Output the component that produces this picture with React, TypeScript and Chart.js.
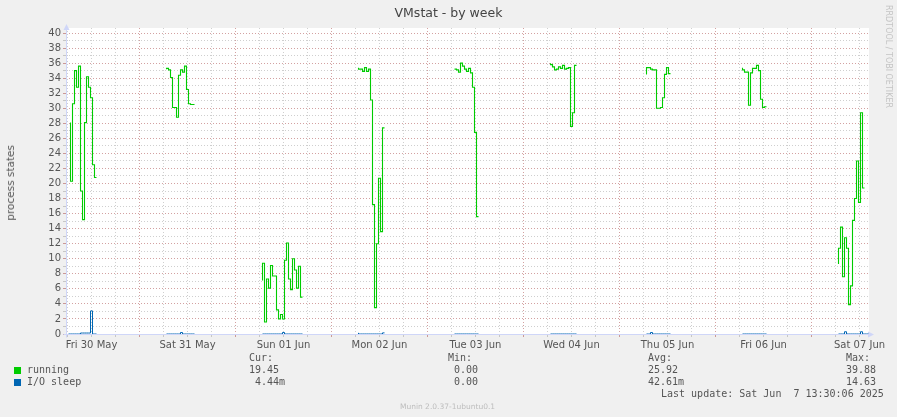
import React, { useEffect, useRef } from 'react';
import { Chart, registerables } from 'chart.js';

Chart.register(...registerables);

// ---- data (hours since Fri 30 May 00:00, 30-minute samples) ----
const STEP_HOURS = 0.5;
const runningStarts = [6.75, 30.75, 54.75, 78.75, 102.75, 126.75, 150.75, 174.75, 198.75];
const runningFri30 = [28.1, 20.3, 30.6, 35.0, 32.8, 35.6, 19.0, 15.2, 28.1, 34.2, 32.8, 31.4, 22.5, 20.8];
const runningSat31 = [35.2, 35.3, 35.1, 34.1, 30.1, 30.1, 28.8, 34.4, 35.1, 34.8, 35.6, 32.5, 30.6, 30.5, 30.5];
const runningSun01 = [7.1, 9.4, 1.6, 7.3, 6.1, 9.1, 7.7, 7.7, 3.2, 2.0, 2.6, 2.0, 9.8, 12.1, 7.3, 5.9, 10.0, 8.5, 6.1, 9.0, 4.9];
const runningMon02 = [35.4, 35.2, 35.2, 34.9, 35.4, 34.9, 35.2, 31.1, 17.2, 3.5, 12.0, 20.7, 13.6, 27.4];
const runningTue03 = [35.2, 35.2, 35.1, 34.8, 36.0, 35.6, 35.2, 34.9, 35.3, 34.7, 32.8, 26.8, 15.6];
const runningWed04 = [36.0, 35.8, 35.5, 35.1, 35.2, 35.5, 35.3, 35.7, 35.2, 35.3, 35.4, 27.6, 29.4, 35.7];
const runningThu05 = [34.5, 35.4, 35.4, 35.2, 35.1, 35.1, 30.0, 30.0, 30.1, 31.4, 34.5, 35.4, 34.6];
const runningFri06 = [35.4, 35.1, 34.8, 34.8, 30.4, 34.7, 35.3, 35.3, 35.7, 35.0, 31.2, 30.1, 30.2];
const runningSat07 = [9.3, 11.4, 14.2, 7.6, 12.8, 11.4, 3.9, 6.4, 15.1, 18.0, 23.0, 17.5, 29.4, 19.4];

const ioStarts = [6.25, 30.75, 54.75, 78.75, 102.75, 126.75, 150.75, 174.75, 198.75];
const ioFri30 = [0, 0, 0, 0, 0, 0, 0, 0.13, 0.13, 0.13, 0.13, 0.13, 3.07, 0, 0];
const ioSat31 = [0, 0, 0, 0, 0, 0, 0, 0, 0.2, 0, 0, 0, 0, 0, 0];
const ioSun01 = [0, 0, 0, 0, 0, 0, 0, 0, 0, 0, 0, 0.2, 0, 0, 0, 0, 0, 0, 0, 0, 0];
const ioMon02 = [0.15, 0, 0, 0, 0, 0, 0, 0, 0, 0, 0, 0, 0, 0.15];
const ioTue03 = [0, 0, 0, 0, 0, 0, 0, 0, 0, 0, 0, 0, 0];
const ioWed04 = [0, 0, 0, 0, 0, 0, 0, 0, 0, 0, 0, 0, 0, 0];
const ioThu05 = [0, 0, 0, 0.2, 0, 0, 0, 0, 0, 0, 0, 0, 0];
const ioFri06 = [0, 0, 0, 0, 0, 0, 0, 0, 0, 0, 0, 0, 0];
const ioSat07 = [0, 0, 0, 0, 0.3, 0, 0, 0, 0, 0, 0, 0, 0.3, 0, 0, 0];

const dayLabels = ['Fri 30 May', 'Sat 31 May', 'Sun 01 Jun', 'Mon 02 Jun', 'Tue 03 Jun', 'Wed 04 Jun', 'Thu 05 Jun', 'Fri 06 Jun', 'Sat 07 Jun'];
const X_MIN = 5.625;
const X_MAX = 206.375;
const GRID_HOURS = 6;
const Y_MIN = 0;
const Y_TOP_TICK = 40;
const Y_MAX = 40.67;

const seriesNames = ['running', 'I/O sleep'];
const seriesColors = ['#00cc00', '#0066b3'];
const curValues = ['19.45', ' 4.44m'];
const minValues = [' 0.00', ' 0.00'];
const avgValues = ['25.92', '42.61m'];
const maxValues = ['39.88', '14.63'];
const lastUpdate = 'Last update: Sat Jun  7 13:30:06 2025';

function buildPoints(starts: number[], segs: number[][]) {
  const pts: { x: number; y: number | null }[] = [];
  segs.forEach((seg, si) => {
    seg.forEach((v, i) => pts.push({ x: starts[si] + i * STEP_HOURS, y: v }));
    pts.push({ x: starts[si] + seg.length * STEP_HOURS, y: null });
  });
  return pts;
}

const RED_GRID = 'rgba(150,30,30,0.42)';
const GRAY_GRID = 'rgba(130,130,130,0.38)';
const AXIS_COLOR = '#CFD6F8';

const decorPlugin = {
  id: 'decor',
  beforeDraw(chart: any) {
    const { ctx, chartArea } = chart;
    ctx.save();
    ctx.fillStyle = '#ffffff';
    ctx.fillRect(chartArea.left, chartArea.top, chartArea.right - chartArea.left, chartArea.bottom - chartArea.top);
    ctx.restore();
  },
  beforeDatasetsDraw(chart: any) {
    const { ctx, chartArea } = chart;
    const x0 = Math.round(chartArea.left) + 0.5;
    const y0 = Math.round(chart.scales.y.getPixelForValue(0)) + 0.5;
    ctx.save();
    ctx.strokeStyle = AXIS_COLOR;
    ctx.fillStyle = AXIS_COLOR;
    ctx.lineWidth = 1;
    ctx.beginPath();
    ctx.moveTo(x0, y0 + 3);
    ctx.lineTo(x0, chartArea.top);
    ctx.moveTo(x0 - 3, y0);
    ctx.lineTo(chartArea.right, y0);
    ctx.stroke();
    ctx.beginPath();
    ctx.moveTo(x0, chartArea.top - 4);
    ctx.lineTo(x0 - 3, chartArea.top + 2);
    ctx.lineTo(x0 + 3, chartArea.top + 2);
    ctx.closePath();
    ctx.fill();
    ctx.beginPath();
    ctx.moveTo(chartArea.right + 5, y0);
    ctx.lineTo(chartArea.right - 1, y0 - 3);
    ctx.lineTo(chartArea.right - 1, y0 + 3);
    ctx.closePath();
    ctx.fill();
    ctx.restore();
  },
};

export default function App() {
  const canvasRef = useRef<HTMLCanvasElement | null>(null);

  useEffect(() => {
    const canvas = canvasRef.current;
    if (!canvas) return;
    const xTicks: number[] = [];
    for (let h = Math.ceil(X_MIN / GRID_HOURS) * GRID_HOURS; h <= X_MAX; h += GRID_HOURS) xTicks.push(h);
    const yTicks: number[] = [];
    for (let v = Y_MIN; v <= Y_TOP_TICK; v += 1) yTicks.push(v);

    const chart = new Chart(canvas, {
      type: 'line',
      data: {
        datasets: [
          {
            label: seriesNames[1],
            data: buildPoints(ioStarts, [ioFri30, ioSat31, ioSun01, ioMon02, ioTue03, ioWed04, ioThu05, ioFri06, ioSat07]) as any,
            borderColor: seriesColors[1],
            borderWidth: 1,
            pointRadius: 0,
            stepped: 'after',
            spanGaps: false,
            fill: false,
          },
          {
            label: seriesNames[0],
            data: buildPoints(runningStarts, [runningFri30, runningSat31, runningSun01, runningMon02, runningTue03, runningWed04, runningThu05, runningFri06, runningSat07]) as any,
            borderColor: seriesColors[0],
            borderWidth: 1.1,
            pointRadius: 0,
            stepped: 'after',
            spanGaps: false,
            fill: false,
          },
        ],
      },
      options: {
        animation: false,
        responsive: false,
        maintainAspectRatio: false,
        layout: { padding: { left: 0, top: 28, right: 28, bottom: 63 } },
        plugins: { legend: { display: false }, title: { display: false }, tooltip: { enabled: false } },
        scales: {
          x: {
            type: 'linear',
            min: X_MIN,
            max: X_MAX,
            afterBuildTicks: (s: any) => {
              s.ticks = xTicks.map((v) => ({ value: v }));
            },
            afterFit: (s: any) => {
              s.height = 20;
            },
            grid: {
              color: (ctx: any) => (ctx.tick && ctx.tick.value % 24 === 0 ? RED_GRID : GRAY_GRID),
              lineWidth: 1,
              drawTicks: true,
              tickLength: 3,
            },
            border: { display: false, dash: [1, 2] },
            ticks: {
              autoSkip: false,
              maxRotation: 0,
              minRotation: 0,
              padding: 2,
              color: '#555555',
              font: { family: 'DejaVu Sans', size: 10 },
              callback: (v: any) => {
                const n = Number(v);
                return n % 24 === 12 ? dayLabels[(n - 12) / 24] ?? '' : '';
              },
            },
          },
          y: {
            type: 'linear',
            min: Y_MIN,
            max: Y_MAX,
            afterBuildTicks: (s: any) => {
              s.ticks = yTicks.map((v) => ({ value: v }));
            },
            afterFit: (s: any) => {
              s.width = 66;
            },
            grid: {
              color: (ctx: any) => (ctx.tick && ctx.tick.value % 2 === 0 ? RED_GRID : GRAY_GRID),
              lineWidth: 1,
              drawTicks: true,
              tickLength: 3,
            },
            border: { display: false, dash: [1, 2] },
            ticks: {
              autoSkip: false,
              padding: 2,
              color: '#555555',
              font: { family: 'DejaVu Sans', size: 10 },
              callback: (v: any) => {
                const n = Number(v);
                return n % 2 === 0 ? String(n) : '';
              },
            },
          },
        },
      },
      plugins: [decorPlugin],
    });
    return () => chart.destroy();
  }, []);

  const mono: React.CSSProperties = {
    position: 'absolute',
    fontFamily: 'DejaVu Sans Mono',
    fontSize: 10,
    lineHeight: '12px',
    color: '#555555',
    whiteSpace: 'pre',
  };
  const rowTops = [352, 364, 376];
  const cols = [
    { x: 249, head: 'Cur:', vals: curValues },
    { x: 448, head: 'Min:', vals: minValues },
    { x: 648, head: 'Avg:', vals: avgValues },
    { x: 846, head: 'Max:', vals: maxValues },
  ];

  return (
    <div style={{ position: 'absolute', left: 0, top: 0, width: 897, height: 417, background: '#f0f0f0', overflow: 'hidden' }}>
      <canvas ref={canvasRef} width={897} height={417} style={{ position: 'absolute', left: 0, top: 0, width: 897, height: 417 }} />
      <div style={{ position: 'absolute', left: 0, top: 5, width: 897, textAlign: 'center', fontFamily: 'DejaVu Sans', fontSize: 12.5, lineHeight: '16px', color: '#444444' }}>
        VMstat - by week
      </div>
      <div style={{ position: 'absolute', left: 3, top: 145, writingMode: 'vertical-rl', transform: 'rotate(180deg)', fontFamily: 'DejaVu Sans', fontSize: 10.5, lineHeight: '14px', color: '#555555', whiteSpace: 'nowrap' }}>
        process states
      </div>
      <div style={{ position: 'absolute', left: 883, top: 5, writingMode: 'vertical-rl', fontFamily: 'DejaVu Sans', fontSize: 8, lineHeight: '10px', color: '#c4c4c4', whiteSpace: 'nowrap' }}>
        RRDTOOL / TOBI OETIKER
      </div>
      {cols.map((c) => (
        <React.Fragment key={c.head}>
          <div style={{ ...mono, left: c.x, top: rowTops[0] }}>{c.head}</div>
          {c.vals.map((v, i) => (
            <div key={i} style={{ ...mono, left: c.x, top: rowTops[i + 1] }}>{v}</div>
          ))}
        </React.Fragment>
      ))}
      {seriesNames.map((n, i) => (
        <React.Fragment key={n}>
          <div style={{ position: 'absolute', left: 14, top: rowTops[i + 1] + 3, width: 7, height: 7, background: seriesColors[i] }} />
          <div style={{ ...mono, left: 27, top: rowTops[i + 1] }}>{n}</div>
        </React.Fragment>
      ))}
      <div style={{ ...mono, left: 661, top: 388 }}>{lastUpdate}</div>
      <div style={{ position: 'absolute', left: 0, top: 401, width: 895, textAlign: 'center', fontFamily: 'DejaVu Sans', fontSize: 7.5, lineHeight: '12px', color: '#bdbdbd' }}>
        Munin 2.0.37-1ubuntu0.1
      </div>
    </div>
  );
}
